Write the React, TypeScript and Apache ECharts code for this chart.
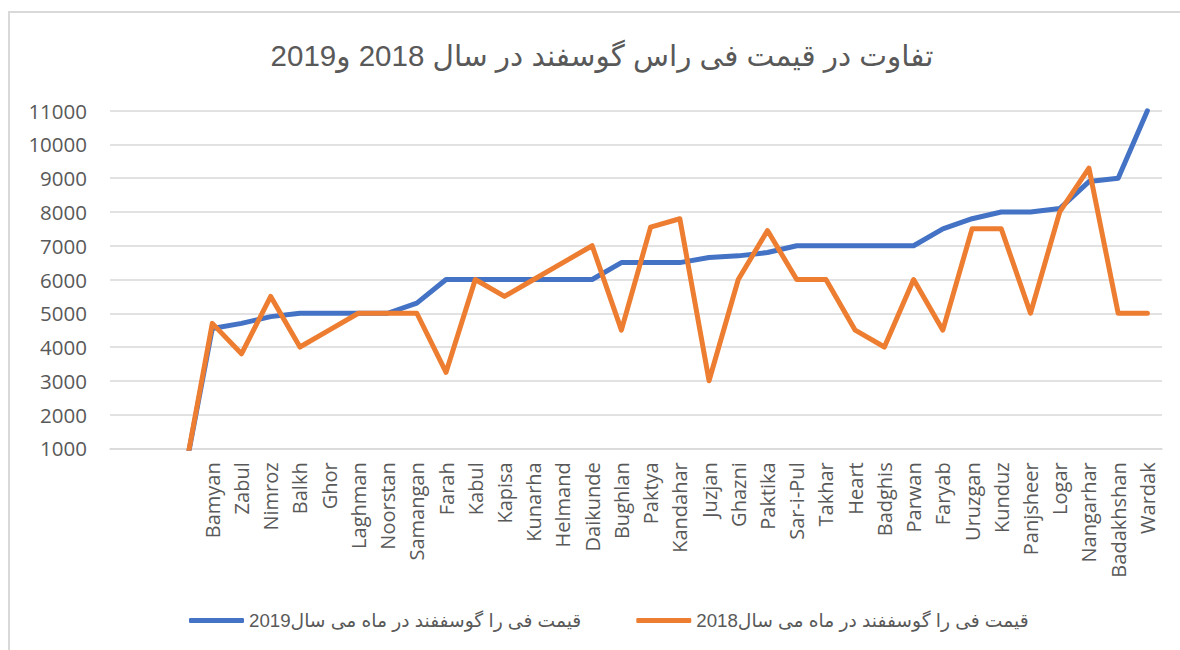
import React, { useEffect, useRef } from "react";
import * as echarts from "echarts";

const titleText = "تفاوت در قیمت فی راس گوسفند در سال 2018 و2019";
const seriesNames = [
  "قیمت فی را گوسففند در ماه می سال2019",
  "قیمت فی را گوسففند در ماه می سال2018",
];

const provinces = [
  "", "", "",
  "Bamyan", "Zabul", "Nimroz", "Balkh", "Ghor", "Laghman", "Noorstan", "Samangan",
  "Farah", "Kabul", "Kapisa", "Kunarha", "Helmand", "Daikunde", "Bughlan", "Paktya",
  "Kandahar", "Juzjan", "Ghazni", "Paktika", "Sar-i-Pul", "Takhar", "Heart", "Badghis",
  "Parwan", "Faryab", "Uruzgan", "Kunduz", "Panjsheer", "Logar", "Nangarhar",
  "Badakhshan", "Wardak",
];

const price2019 = [
  null, null, 0,
  4550, 4700, 4900, 5000, 5000, 5000, 5000, 5300,
  6000, 6000, 6000, 6000, 6000, 6000, 6500, 6500,
  6500, 6650, 6700, 6800, 7000, 7000, 7000, 7000,
  7000, 7500, 7800, 8000, 8000, 8100, 8900,
  9000, 11000,
];

const price2018 = [
  null, null, 0,
  4700, 3800, 5500, 4000, 4500, 5000, 5000, 5000,
  3250, 6000, 5500, 6000, 6500, 7000, 4500, 7550,
  7800, 3000, 6000, 7450, 6000, 6000, 4500, 4000,
  6000, 4500, 7500, 7500, 5000, 8000, 9300,
  5000, 5000,
];

const yMin = 1000;
const yMax = 11000;
const yStep = 1000;

export default function App() {
  const ref = useRef<HTMLDivElement>(null);
  useEffect(() => {
    if (!ref.current) return;
    const chart = echarts.init(ref.current, undefined, { renderer: "svg" });
    const textColor = "#595959";
    chart.setOption({
      animation: false,
      backgroundColor: "#ffffff",
      title: {
        text: titleText,
        left: 597,
        textAlign: "center",
        top: 35,
        textStyle: {
          fontFamily: "Liberation Sans, DejaVu Sans, Arial, sans-serif",
          fontSize: 29.5,
          fontWeight: "normal",
          color: textColor,
        },
      },
      graphic: [
        {
          type: "rect",
          shape: { x: 9, y: 12, width: 1200, height: 700 },
          style: { fill: "none", stroke: "#d9d9d9", lineWidth: 2 },
          silent: true,
          z: -1,
        },
      ],
      legend: {
        top: 606,
        left: 184,
        icon: "roundRect",
        itemWidth: 55,
        itemHeight: 5,
        itemGap: 55,
        textStyle: {
          fontFamily: "Liberation Sans, DejaVu Sans, Arial, sans-serif",
          fontSize: 18.7,
          color: textColor,
        },
        data: seriesNames,
      },
      grid: {
        left: 110,
        right: 18,
        top: 110.7,
        bottom: 201.7,
        containLabel: false,
      },
      xAxis: {
        type: "category",
        data: provinces,
        boundaryGap: true,
        axisLine: { show: true, lineStyle: { color: "#d9d9d9", width: 1.5 } },
        axisTick: { show: false },
        axisLabel: {
          interval: 0,
          rotate: 90,
          margin: 14,
          fontFamily: "Open Sans, sans-serif",
          fontSize: 20,
          color: textColor,
        },
      },
      yAxis: {
        type: "value",
        min: yMin,
        max: yMax,
        interval: yStep,
        axisLine: { show: false },
        axisTick: { show: false },
        splitLine: { lineStyle: { color: "#d9d9d9", width: 1.5 } },
        axisLabel: {
          margin: 23,
          fontFamily: "Open Sans, sans-serif",
          fontSize: 20.5,
          color: textColor,
          formatter: (v: number) => String(v),
        },
      },
      series: [
        {
          name: seriesNames[0],
          type: "line",
          data: price2019,
          symbol: "none",
          clip: true,
          lineStyle: { color: "#4472C4", width: 5, join: "round", cap: "round" },
          itemStyle: { color: "#4472C4" },
        },
        {
          name: seriesNames[1],
          type: "line",
          data: price2018,
          symbol: "none",
          clip: true,
          lineStyle: { color: "#ED7D31", width: 5, join: "round", cap: "round" },
          itemStyle: { color: "#ED7D31" },
        },
      ],
    });
    return () => chart.dispose();
  }, []);
  return (
    <div
      ref={ref}
      style={{ position: "fixed", left: 0, top: 0, width: 1180, height: 650 }}
    />
  );
}
